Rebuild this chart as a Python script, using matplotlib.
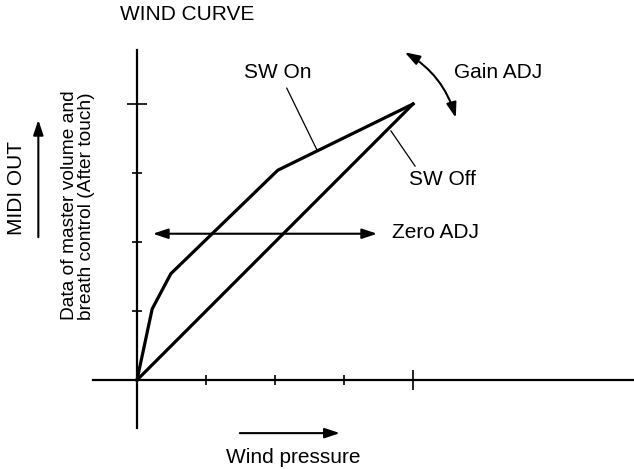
import matplotlib
matplotlib.use("Agg")
import matplotlib.pyplot as plt

plt.rcParams['font.family'] = ['Liberation Sans', 'DejaVu Sans']

# curve data (wind pressure vs MIDI output, in tick units)
sw_on_x = [0.0, 0.22, 0.49, 2.04, 4.0]
sw_on_y = [0.0, 1.03, 1.54, 3.04, 4.0]
sw_off_x = [0.0, 4.0]
sw_off_y = [0.0, 4.0]
small_ticks = [1, 2, 3]
big_ticks = [4]

# one data unit = one tick spacing (69 px); origin of the drawing at pixel (137, 380)
fig = plt.figure(figsize=(6.34, 4.69), dpi=100)
ax = fig.add_axes([0, 0, 1, 1])
ax.set_xlim(-137 / 69, 497 / 69)
ax.set_ylim(-89 / 69, 380 / 69)

for side in ['top', 'right']:
  ax.spines[side].set_visible(False)
ax.spines['left'].set_position(('data', 0))
ax.spines['bottom'].set_position(('data', 0))
ax.spines['left'].set_bounds(-0.70, 4.78)
ax.spines['bottom'].set_bounds(-0.64, 7.3)
ax.spines['left'].set_linewidth(1.6)
ax.spines['bottom'].set_linewidth(1.6)

ax.set_xticks(small_ticks)
ax.set_yticks(small_ticks)
ax.set_xticks(big_ticks, minor=True)
ax.set_yticks(big_ticks, minor=True)
ax.tick_params(which='major', direction='inout', length=7, width=1.2, labelbottom=False, labelleft=False)
ax.tick_params(which='minor', direction='inout', length=15, width=1.2, labelbottom=False, labelleft=False)

ax.plot(sw_on_x, sw_on_y, color='black', lw=2.3, solid_joinstyle='miter')
ax.plot(sw_off_x, sw_off_y, color='black', lw=2.3)

txt = dict(color='black', fontsize=15)

ax.text(-0.246, 5.29, 'WIND CURVE', ha='left', va='center', **txt)

# SW On / SW Off leaders
ax.text(2.04, 4.45, 'SW On', ha='center', va='center', **txt)
ax.plot([2.17, 2.61], [4.23, 3.33], color='black', lw=0.9)
ax.text(4.43, 2.90, 'SW Off', ha='center', va='center', **txt)
ax.plot([4.03, 3.68], [3.10, 3.61], color='black', lw=0.9)

head = dict(arrowstyle='<|-|>,head_length=0.9,head_width=0.3', color='black', lw=1.5,
            shrinkA=0, shrinkB=0)

# Zero ADJ
ax.annotate('', xy=(3.48, 2.12), xytext=(0.23, 2.12), arrowprops=head)
ax.text(3.70, 2.14, 'Zero ADJ', ha='left', va='center', **txt)

# Gain ADJ
gain = dict(head, connectionstyle='arc3,rad=-0.2')
ax.annotate('', xy=(4.62, 3.80), xytext=(3.88, 4.75), arrowprops=gain)
ax.text(4.59, 4.46, 'Gain ADJ', ha='left', va='center', **txt)

# y side labels
ax.text(-1.74, 2.78, 'MIDI OUT', rotation=90, ha='center', va='center', **txt)
one = dict(arrowstyle='-|>,head_length=0.9,head_width=0.3', color='black', lw=1.5,
           shrinkA=0, shrinkB=0)
ax.annotate('', xy=(-1.43, 3.77), xytext=(-1.43, 2.07), arrowprops=one)
ax.text(-0.855, 0.87, 'Data of master volume and\nbreath control (After touch)',
        rotation=90, ha='center', va='bottom', multialignment='left',
        linespacing=1.05, color='black', fontsize=13.8)

# x side label
ax.annotate('', xy=(2.94, -0.77), xytext=(1.49, -0.77), arrowprops=one)
ax.text(2.26, -1.12, 'Wind pressure', ha='center', va='center', **txt)

fig.savefig('out.png', dpi=100, facecolor='white')
